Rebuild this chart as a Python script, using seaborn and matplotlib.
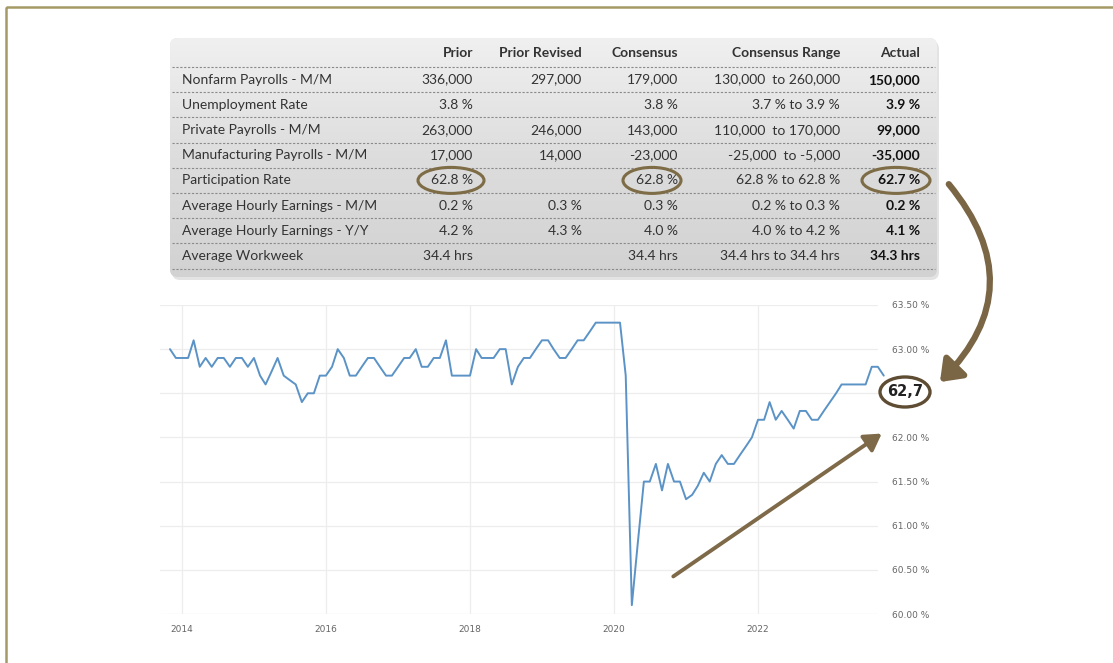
import numpy as np
import pandas as pd
import matplotlib
matplotlib.use("Agg")
import matplotlib.pyplot as plt
import seaborn as sns
from matplotlib.patches import FancyBboxPatch, Ellipse, FancyArrowPatch, Rectangle

# ---------------- data ----------------
months = pd.date_range("2013-11-01", periods=120, freq="MS")
participation = [
    63.0, 62.9, 62.9, 62.9, 63.1, 62.8, 62.9, 62.8, 62.9, 62.9, 62.8, 62.9,
    62.9, 62.8, 62.9, 62.7, 62.6, 62.75, 62.9, 62.7, 62.65, 62.6, 62.4, 62.5,
    62.5, 62.7, 62.7, 62.8, 63.0, 62.9, 62.7, 62.7, 62.8, 62.9, 62.9, 62.8,
    62.7, 62.7, 62.8, 62.9, 62.9, 63.0, 62.8, 62.8, 62.9, 62.9, 63.1, 62.7,
    62.7, 62.7, 62.7, 63.0, 62.9, 62.9, 62.9, 63.0, 63.0, 62.6, 62.8, 62.9,
    62.9, 63.0, 63.1, 63.1, 63.0, 62.9, 62.9, 63.0, 63.1, 63.1, 63.2, 63.3,
    63.3, 63.3, 63.3, 63.3, 62.7, 60.1, 60.8, 61.5, 61.5, 61.7, 61.4, 61.7,
    61.5, 61.5, 61.3, 61.35, 61.45, 61.6, 61.5, 61.7, 61.8, 61.7, 61.7, 61.8,
    61.9, 62.0, 62.2, 62.2, 62.4, 62.2, 62.3, 62.2, 62.1, 62.3, 62.3, 62.2,
    62.2, 62.3, 62.4, 62.5, 62.6, 62.6, 62.6, 62.6, 62.6, 62.8, 62.8, 62.7,
]
y_ticks = [60.0, 60.5, 61.0, 61.5, 62.0, 62.5, 63.0, 63.5]
hidden_tick = 62.5  # label covered by the latest-value badge in the reference
year_ticks = [2014, 2016, 2018, 2020, 2022]
latest_label = "62,7"

col_headers = ["Prior", "Prior Revised", "Consensus", "Consensus Range", "Actual"]
row_labels = [
    "Nonfarm Payrolls - M/M", "Unemployment Rate", "Private Payrolls - M/M",
    "Manufacturing Payrolls - M/M", "Participation Rate",
    "Average Hourly Earnings - M/M", "Average Hourly Earnings - Y/Y",
    "Average Workweek",
]
prior = ["336,000", "3.8 %", "263,000", "17,000", "62.8 %", "0.2 %", "4.2 %", "34.4 hrs"]
prior_revised = ["297,000", "", "246,000", "14,000", "", "0.3 %", "4.3 %", ""]
consensus = ["179,000", "3.8 %", "143,000", "-23,000", "62.8 %", "0.3 %", "4.0 %", "34.4 hrs"]
consensus_range = ["130,000  to 260,000", "3.7 % to 3.9 %", "110,000  to 170,000",
                   "-25,000  to -5,000", "62.8 % to 62.8 %", "0.2 % to 0.3 %",
                   "4.0 % to 4.2 %", "34.4 hrs to 34.4 hrs"]
actual = ["150,000", "3.9 %", "99,000", "-35,000", "62.7 %", "0.2 %", "4.1 %", "34.3 hrs"]

# ---------------- figure ----------------
sns.set_theme(style="white")
plt.rcParams["font.family"] = ["Lato", "DejaVu Sans"]
W, H = 1113, 663
fig = plt.figure(figsize=(W / 100, H / 100), dpi=100)
fig.patch.set_facecolor("white")

# chart axes (pixel placement)
left_px, right_px, top_px, bot_px = 160, 878, 305, 614
ax = fig.add_axes([left_px / W, (H - bot_px) / H, (right_px - left_px) / W, (bot_px - top_px) / H])
df = pd.DataFrame({"month": months, "rate": participation})
sns.lineplot(data=df, x="month", y="rate", ax=ax, color="#5b93c6", lw=1.4)
for ln in ax.get_lines():
    ln.set_clip_on(False)

px_per_year = 72.0
x0 = pd.Timestamp("2014-01-01")
x2014_px = 182
ax.set_xlim(x0 - pd.Timedelta(days=(x2014_px - left_px) / px_per_year * 365.25),
            x0 + pd.Timedelta(days=(right_px - x2014_px) / px_per_year * 365.25))
ax.set_ylim(60.0, 63.5)
ax.set_xticks([pd.Timestamp(f"{y}-01-01") for y in year_ticks])
ax.set_xticklabels([str(y) for y in year_ticks])
ax.yaxis.tick_right()
ax.set_yticks(y_ticks)
ax.set_yticklabels(["" if v == hidden_tick else f"{v:.2f} %" for v in y_ticks])
ax.tick_params(axis="both", length=0, labelsize=6.5, colors="#666666")
ax.tick_params(axis="x", pad=8)
ax.tick_params(axis="y", pad=10)
for lab in ax.get_xticklabels() + ax.get_yticklabels():
    lab.set_family("DejaVu Sans")
ax.grid(True, color="#ededed", lw=0.9)
for s in ax.spines.values():
    s.set_visible(False)
ax.set_xlabel("")
ax.set_ylabel("")
ax.set_facecolor("none")

# overlay axes in pixel coordinates
ov = fig.add_axes([0, 0, 1, 1], zorder=5)
ov.set_xlim(0, W)
ov.set_ylim(H, 0)
ov.axis("off")
ov.patch.set_alpha(0)

# outer frame
ov.add_patch(Rectangle((6, 7), 1300, 800, fill=False, ec="#a59a66", lw=1.8))

# table background with gradient
tx0, tx1, ty0, ty1 = 170, 937, 38, 277
shadow = FancyBboxPatch((tx0 + 2, ty0 + 3), tx1 - tx0, ty1 - ty0,
                        boxstyle="round,pad=0,rounding_size=8", fc="#c8c8c8", ec="none", alpha=0.5)
ov.add_patch(shadow)
box = FancyBboxPatch((tx0, ty0), tx1 - tx0, ty1 - ty0,
                     boxstyle="round,pad=0,rounding_size=8", fc="#dedede", ec="none")
ov.add_patch(box)
grad = np.linspace(0, 1, 256).reshape(-1, 1)
im = ov.imshow(grad, extent=(tx0, tx1, ty1, ty0), cmap=matplotlib.colors.LinearSegmentedColormap.from_list(
    "g", ["#f0f0f0", "#dddddd", "#d2d2d2"]), aspect="auto", origin="upper", zorder=1)
im.set_clip_path(box)
ov.set_xlim(0, W)
ov.set_ylim(H, 0)

header_y = 53
row_top = 67
row_h = 25.2
col_right = [473, 582, 678, 840, 920]
label_x = 182
txt_kw = dict(fontsize=10, color="#333333", va="center", zorder=3)

for x, h in zip(col_right, col_headers):
    ov.text(x, header_y, h, ha="right", fontweight="bold", **txt_kw)

for k in range(len(row_labels) + 1):
    y = row_top + k * row_h
    ov.plot([tx0 + 2, tx1 - 2], [y, y], color="#8a8a8a", lw=0.8, ls=(0, (2, 1.5)), zorder=2)

columns = [prior, prior_revised, consensus, consensus_range, actual]
for i, lab in enumerate(row_labels):
    y = row_top + (i + 0.5) * row_h
    ov.text(label_x, y, lab, ha="left", **txt_kw)
    for j, (x, col) in enumerate(zip(col_right, columns)):
        if col[i]:
            ov.text(x, y, col[i], ha="right",
                    fontweight="bold" if j == 4 else "normal",
                    **{**txt_kw, "color": "#111111" if j == 4 else "#333333"})

# circles around participation values
pr_y = row_top + 4.5 * row_h
ell_c = "#7d6c45"
for cx, w in [(451, 66), (652, 58), (896, 68)]:
    ov.add_patch(Ellipse((cx, pr_y), w, 26, fill=False, ec=ell_c, lw=2.2, zorder=4))

# latest value label
ov.add_patch(Ellipse((905, 392), 50, 30, fc="white", ec="#5e4c33", lw=2.4, zorder=6))
ov.text(905, 392, latest_label, ha="center", va="center", fontsize=10.5,
        fontweight="bold", color="#222222", family="DejaVu Sans", zorder=7)

# curved arrow
ov.add_patch(FancyArrowPatch((947, 182), (938, 384), connectionstyle="arc3,rad=-0.46",
                             arrowstyle="-|>,head_length=0.6,head_width=0.45",
                             mutation_scale=20, lw=4.5, color="#7a6544", zorder=6))
# straight arrow
ov.add_patch(FancyArrowPatch((671, 578), (884, 432), arrowstyle="-|>,head_length=0.5,head_width=0.3",
                             mutation_scale=20, lw=2.8, color="#7e6a48", zorder=6))

fig.savefig("out.png", dpi=100)
